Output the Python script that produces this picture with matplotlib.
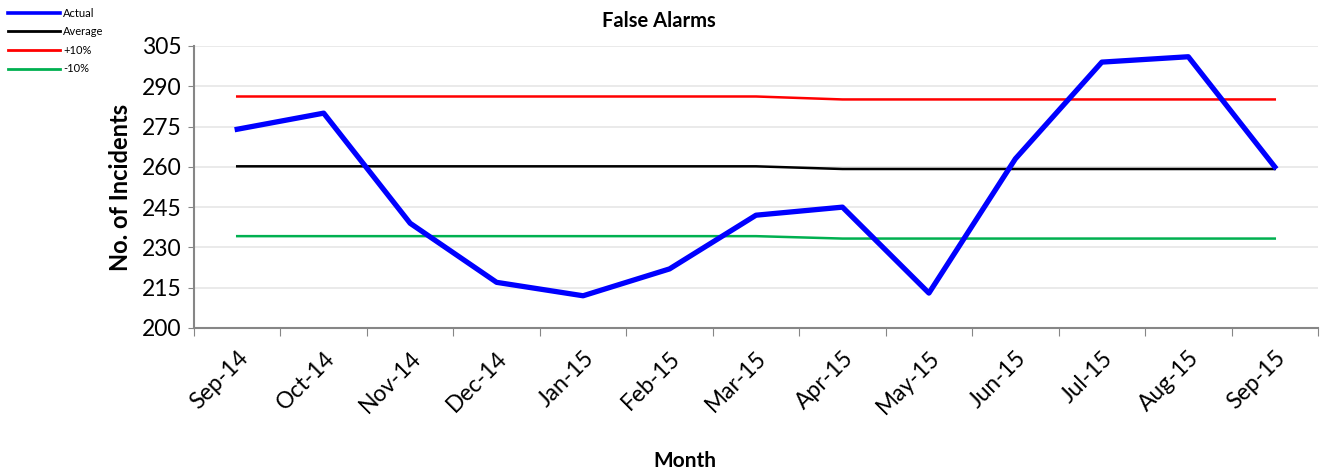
import numpy as np
import matplotlib.pyplot as plt

plt.rcParams['font.family'] = ['Lato', 'DejaVu Sans']

months = ['Sep-14', 'Oct-14', 'Nov-14', 'Dec-14', 'Jan-15', 'Feb-15', 'Mar-15',
          'Apr-15', 'May-15', 'Jun-15', 'Jul-15', 'Aug-15', 'Sep-15']
actual = [274, 280, 239, 217, 212, 222, 242, 245, 213, 263, 299, 301, 260]
average = [260.2, 260.2, 260.2, 260.2, 260.2, 260.2, 260.2,
           259.2, 259.2, 259.2, 259.2, 259.2, 259.2]
plus10 = [286.2, 286.2, 286.2, 286.2, 286.2, 286.2, 286.2,
          285.1, 285.1, 285.1, 285.1, 285.1, 285.1]
minus10 = [234.2, 234.2, 234.2, 234.2, 234.2, 234.2, 234.2,
           233.3, 233.3, 233.3, 233.3, 233.3, 233.3]

fig = plt.figure(figsize=(13.21, 4.70), dpi=100)
ax = fig.add_axes([194 / 1321, 1 - 328 / 470, 1124 / 1321, 282 / 470])

x = np.arange(len(months))
ax.plot(x, actual, color='#0000ff', lw=3.8, label='Actual', zorder=5)
ax.plot(x, average, color='black', lw=1.8, label='Average', zorder=4)
ax.plot(x, plus10, color='#ff0000', lw=1.8, label='+10%', zorder=4)
ax.plot(x, minus10, color='#00b050', lw=1.8, label='-10%', zorder=4)

ax.set_xlim(-0.5, len(months) - 0.5)
ax.set_ylim(200, 305)
ax.set_yticks(np.arange(200, 306, 15))
ax.tick_params(axis='y', labelsize=16.5, length=4, color='#868686', pad=5)
ax.yaxis.grid(True, color='#e6e6e6', lw=1.2)
ax.set_axisbelow(True)

# ticks between categories, labels at the centers
ax.set_xticks(np.arange(-0.5, len(months), 1.0))
ax.set_xticklabels([])
ax.set_xticks(x, minor=True)
ax.set_xticklabels(months, minor=True, rotation=45, ha='right',
                   rotation_mode='anchor', fontsize=16.5)
ax.tick_params(axis='x', which='major', length=6, color='#868686')
ax.tick_params(axis='x', which='minor', length=0, pad=14)

for s in ['top', 'right']:
    ax.spines[s].set_visible(False)
for s in ['left', 'bottom']:
    ax.spines[s].set_color('#868686')
    ax.spines[s].set_linewidth(1.5)

fig.text(0.499, 1 - 21 / 470, 'False Alarms', ha='center', va='center',
         fontsize=14.5, fontweight='bold')
fig.text(120 / 1321, 1 - 187 / 470, 'No. of Incidents', ha='center', va='center',
         rotation=90, fontsize=17, fontweight='bold')
fig.text(685 / 1321, 1 - 461 / 470, 'Month', ha='center', va='center',
         fontsize=15, fontweight='bold')

leg = fig.legend(loc='upper left', bbox_to_anchor=(0.0, 1.0), frameon=False,
                 fontsize=8, handlelength=4.7, handletextpad=0.3,
                 labelspacing=0.68, borderaxespad=0.3)
for h in leg.get_lines():
    h.set_linewidth(2.6 if h.get_label() == 'Actual' else 2.0)

fig.savefig('out.png', dpi=100)
